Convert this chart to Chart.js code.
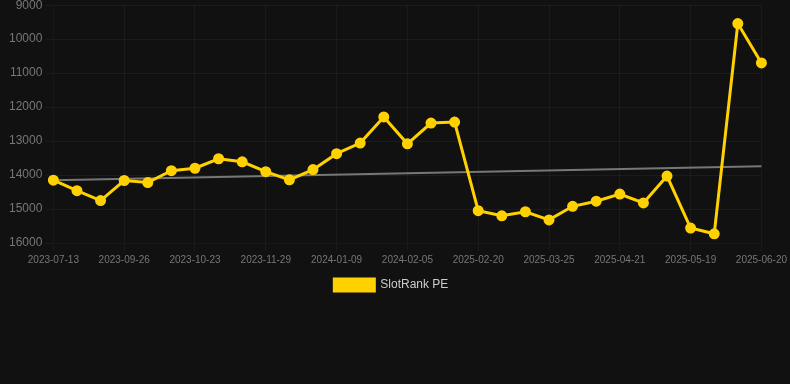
<!DOCTYPE html>
<html>
<head>
<meta charset="utf-8">
<script src="https://cdn.jsdelivr.net/npm/chart.js@4/dist/chart.umd.min.js"></script>
<style>
  html, body { margin: 0; padding: 0; background: #111111; overflow: hidden; }
  #wrap { width: 790px; height: 306px; position: relative; margin-top: -5px; }
</style>
</head>
<body>
<div id="wrap"><canvas id="line-chart"></canvas></div>
<script>
// dates on the x axis (only every 3rd one is shown by autoskip)
const dates = [
    "2023-07-13", "2023-08-08", "2023-09-01", "2023-09-26", "2023-10-05", "2023-10-14",
    "2023-10-23", "2023-11-04", "2023-11-17", "2023-11-29", "2023-12-13", "2023-12-27",
    "2024-01-09", "2024-01-18", "2024-01-27", "2024-02-05", "2024-02-14", "2024-02-23",
    "2025-02-20", "2025-03-03", "2025-03-14", "2025-03-25", "2025-04-03", "2025-04-12",
    "2025-04-21", "2025-04-30", "2025-05-09", "2025-05-19", "2025-05-30", "2025-06-10",
    "2025-06-20"
];

// SlotRank PE values
const rankValues = [
    14150, 14460, 14750, 14160, 14220, 13870,
    13800, 13520, 13610, 13900, 14140, 13840,
    13370, 13060, 12290, 13080, 12470, 12440,
    15050, 15200, 15080, 15320, 14920, 14770,
    14560, 14820, 14030, 15560, 15730, 9540,
    10700
];

// trend line, only the two ends are known
const trendStart = 14150;
const trendEnd = 13740;
const trendValues = dates.map((d, i) => i === 0 ? trendStart : (i === dates.length - 1 ? trendEnd : null));

// y axis range (reversed)
const yMin = 9000;
const yMax = 16000;
const yStep = 1000;

const gridColor = "rgba(255,255,255,0.045)";
const fontFamily = "'Liberation Sans', Arial, sans-serif";

new Chart(document.getElementById("line-chart"), {
    type: 'line',
    data: {
        labels: dates,
        datasets: [{
            label: "SlotRank PE",
            data: rankValues,
            borderColor: "#FFD100",
            backgroundColor: "#FFD100",
            borderWidth: 3,
            pointRadius: 4,
            pointHoverRadius: 5,
            tension: 0
        }, {
            label: "trend",
            data: trendValues,
            borderColor: "#777777",
            borderWidth: 2,
            pointRadius: 0,
            spanGaps: true,
            tension: 0
        }]
    },
    options: {
        responsive: true,
        maintainAspectRatio: false,
        animation: false,
        layout: { padding: { left: 6 } },
        plugins: {
            legend: {
                position: 'bottom',
                labels: {
                    color: "#cccccc",
                    font: { family: fontFamily, size: 12 },
                    // hide the trend entry, pad the text so the item sits a bit left
                    generateLabels: chart => Chart.defaults.plugins.legend.labels.generateLabels(chart)
                        .filter(item => item.text !== "trend")
                        .map(item => Object.assign(item, { text: item.text + "    " }))
                }
            },
            tooltip: { enabled: false }
        },
        scales: {
            x: {
                grid: { color: gridColor },
                ticks: {
                    color: "#777777",
                    maxRotation: 0,
                    font: { family: fontFamily, size: 10 }
                }
            },
            y: {
                reverse: true,
                min: yMin,
                max: yMax,
                grid: { color: gridColor },
                ticks: {
                    stepSize: yStep,
                    color: "#777777",
                    font: { family: fontFamily, size: 12 },
                    callback: v => String(v)
                }
            }
        }
    }
});
</script>
</body>
</html>
